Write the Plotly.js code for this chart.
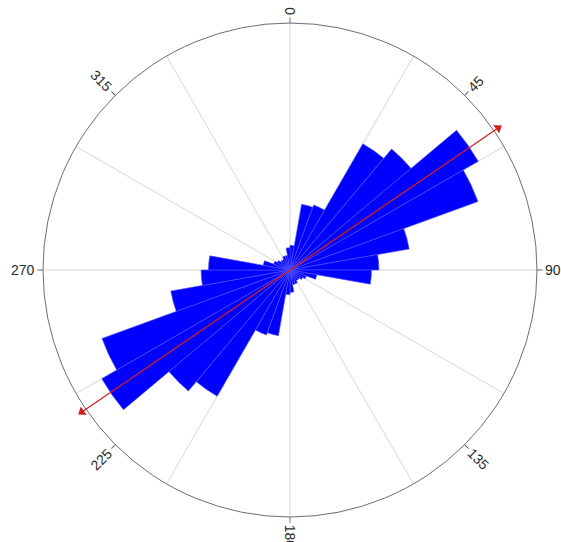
<!DOCTYPE html>
<html><head><meta charset="utf-8">
<script src="https://cdn.plot.ly/plotly-3.0.1.min.js"></script>
<style>html,body{margin:0;padding:0;background:#fff;overflow:hidden}#chart{width:561px;height:542px}</style>
</head><body><div id="chart"></div>
<script>
// bin centres (degrees, clockwise from north), bin width 10
const binCenters = [5,15,25,35,45,55,65,75,85,95,105,115,125,135,145,155,165,175,
                    185,195,205,215,225,235,245,255,265,275,285,295,305,315,325,335,345,355];
const frequency  = [10,27,28,59,64,88,81,49,36,33,11,7,6,5,5,6,6,9,
                    10,27,28,59,64,88,81,49,36,33,11,7,6,5,5,6,6,9];
const binWidth = 10;
// mean axial direction arrow
const arrowTheta = [235.7, 55.7];
const arrowR = [102, 102];
// angular tick labels
const tickVals = [0,45,90,135,180,225,270,315];
const tickText = ['0','45','90','135','180','225','270','315'];
const gridVals = [0,30,60,90,120,150,180,210,240,270,300,330];

const W = 561, H = 542;
const cxPx = 290, cyPx = 270, Rpx = 247;
const rMax = 100;                 // radial range of the rose
const rOuter = 102.5;             // radial range of the overlay (arrow + ticks)
const R2px = Rpx * rOuter / rMax;
function domainFor(rp) {
  return {
    x: [(cxPx - rp) / W, (cxPx + rp) / W],
    y: [(H - cyPx - rp) / H, (H - cyPx + rp) / H]
  };
}

const traces = [
  {
    type: 'barpolar', subplot: 'polar',
    r: frequency, theta: binCenters, width: binWidth,
    marker: {color: '#0000ff', line: {color: 'rgba(80,80,255,1)', width: 0.6}},
    hoverinfo: 'skip'
  },
  {
    type: 'scatterpolar', subplot: 'polar2', mode: 'lines+markers',
    r: arrowR, theta: arrowTheta, cliponaxis: false,
    line: {color: '#d41f1f', width: 1.3},
    marker: {symbol: 'triangle-up', size: 9, color: '#d41f1f', angle: arrowTheta},
    hoverinfo: 'skip'
  }
];

// tick labels placed radially around the circle
const annotations = tickVals.map((v, i) => {
  const txt = tickText[i];
  const half = txt.length * 3.9;
  const d = Rpx + 8 + half;
  const a = v * Math.PI / 180;
  const xPx = cxPx + d * Math.sin(a);
  const yPx = cyPx - d * Math.cos(a);
  const ang = v <= 180 ? v - 90 : v - 270;
  return {
    xref: 'paper', yref: 'paper', x: xPx / W, y: 1 - yPx / H,
    xanchor: 'center', yanchor: 'middle', showarrow: false,
    text: txt, textangle: ang,
    font: {family: 'Liberation Sans, Arial, sans-serif', size: 14, color: '#2a2a2a'}
  };
});

const layout = {
  width: W, height: H,
  margin: {l: 0, r: 0, t: 0, b: 0},
  paper_bgcolor: '#fff',
  showlegend: false,
  polar: {
    domain: domainFor(Rpx), bgcolor: '#fff', hole: 0,
    angularaxis: {
      direction: 'clockwise', rotation: 90,
      tickmode: 'array', tickvals: gridVals,
      showticklabels: false, ticks: '',
      showgrid: true, gridcolor: '#d6d6d6', gridwidth: 1,
      showline: true, linecolor: '#6c6c7c', linewidth: 1
    },
    radialaxis: {range: [0, rMax], visible: false, showgrid: false}
  },
  polar2: {
    domain: domainFor(R2px), bgcolor: 'rgba(0,0,0,0)',
    angularaxis: {
      direction: 'clockwise', rotation: 90,
      tickmode: 'array', tickvals: tickVals,
      showticklabels: false, ticks: 'inside', ticklen: 6, tickcolor: '#6c6c7c', tickwidth: 1,
      showgrid: false, showline: false
    },
    radialaxis: {range: [0, rOuter], visible: false, showgrid: false}
  },
  annotations: annotations
};

Plotly.newPlot('chart', traces, layout, {displayModeBar: false, staticPlot: true});
</script>
</body></html>
